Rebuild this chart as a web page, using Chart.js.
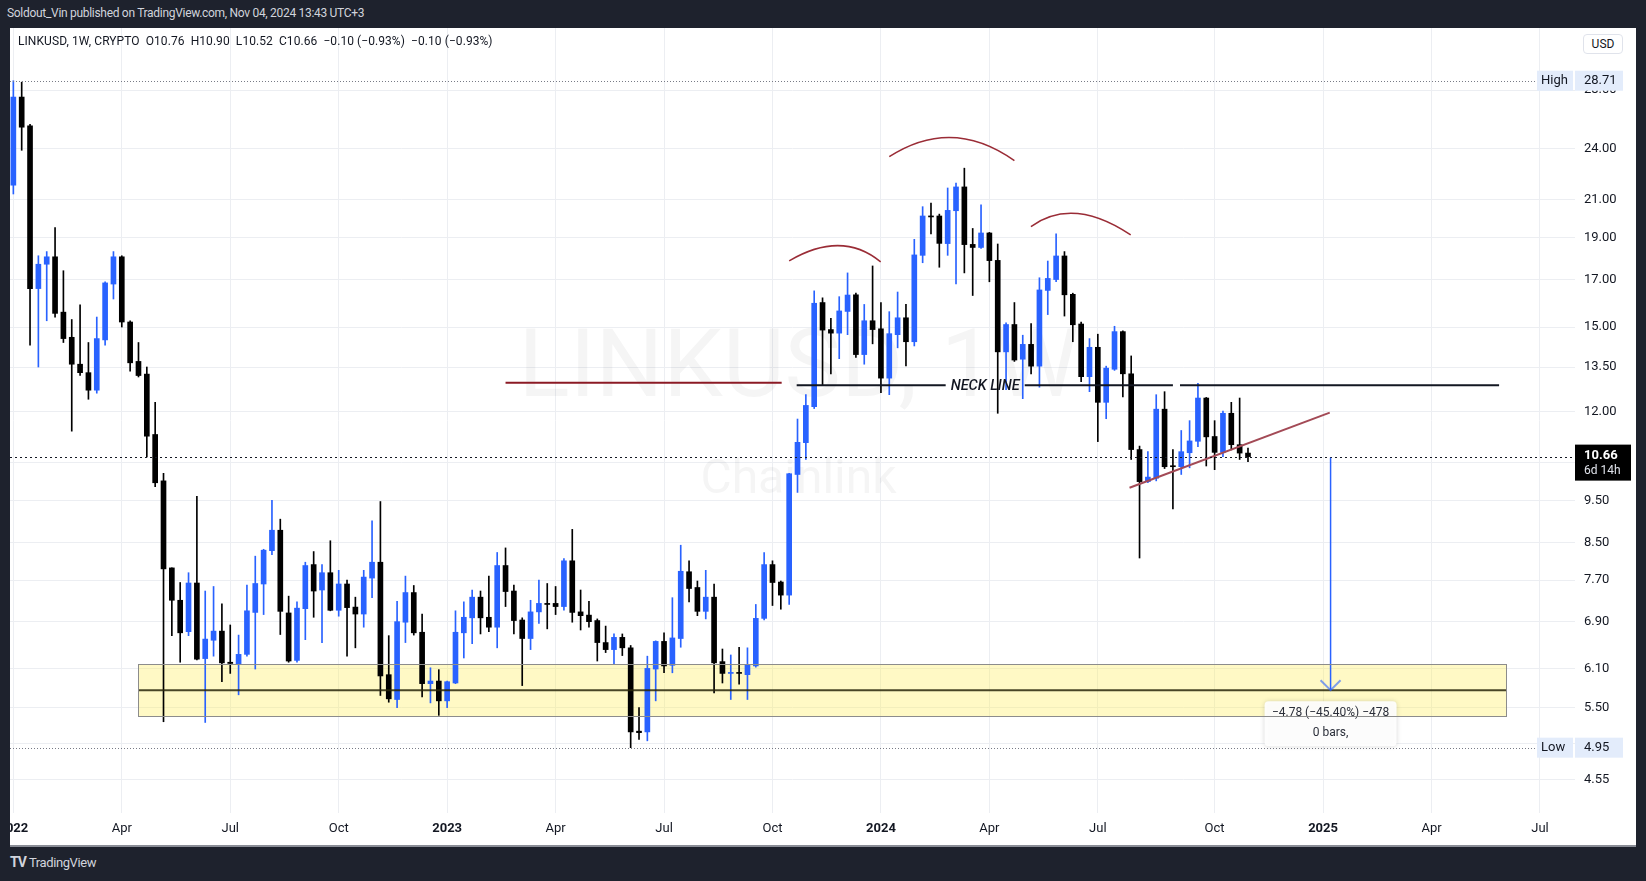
<!DOCTYPE html>
<html>
<head>
<meta charset="utf-8">
<script src="https://cdn.jsdelivr.net/npm/chart.js@4.4.0/dist/chart.umd.min.js"></script>
<style>
  html, body { margin: 0; padding: 0; width: 1646px; height: 881px; overflow: hidden; background: #1e222d; font-family: Roboto, "Liberation Sans", sans-serif; }
  #top { position: absolute; left: 7px; top: 6px; color: #d1d4dc; font-size: 12px; letter-spacing: -0.3px; white-space: pre; }
  #panel { position: absolute; left: 10px; top: 28px; width: 1626px; height: 817px; background: #fff; border-bottom: 2px solid #8a8d96; }
  #panel canvas { position: absolute; left: 0; top: 0; }
  #legend { position: absolute; left: 8px; top: 6px; font-size: 12px; color: #131722; white-space: pre; letter-spacing: 0.07px; z-index: 2; }
  #usd { position: absolute; left: 1573px; top: 6px; width: 38px; height: 18px; border: 1px solid #e0e3eb; border-radius: 4px; font-size: 12px; line-height: 18px; text-align: center; color: #131722; background: #fff; z-index: 2; }
  #footer { position: absolute; left: 10px; top: 854px; color: #d1d4dc; font-size: 13px; letter-spacing: -0.4px; }
  #footer b { font-size: 14px; margin-right: 3px; letter-spacing: -1px; }
</style>
</head>
<body>
<div id="top">Soldout_Vin published on TradingView.com, Nov 04, 2024 13:43 UTC+3</div>
<div id="panel">
  <div id="legend">LINKUSD, 1W, CRYPTO  O10.76  H10.90  L10.52  C10.66  −0.10 (−0.93%)  −0.10 (−0.93%)</div>
  <div id="usd">USD</div>
  <canvas id="chart" width="1626" height="817"></canvas>
</div>
<div id="footer"><b>TV</b>TradingView</div>
<script>
// weekly candles, LINKUSD, first bar = week of Jan 3 2022
const opens = [21.8, 27.5, 25.5, 16.6, 17.7, 18.05, 15.6, 14.6, 13.6, 13.3,
  12.7, 14.5, 16.8, 18.05, 15.2, 13.7, 13.25, 11.3, 10.0, 7.95,
  7.3, 6.72, 7.64, 6.26, 6.57, 6.73, 6.2, 6.17, 6.33, 7.07,
  7.62, 8.32, 8.78, 7.06, 6.23, 7.14, 8.02, 7.5, 7.85, 7.11,
  7.62, 7.17, 7.04, 7.74, 8.07, 6.0, 5.62, 6.89, 7.45, 6.71,
  5.86, 5.9, 5.6, 5.87, 6.7, 6.97, 7.36, 6.98, 6.8, 8.0,
  7.48, 6.93, 6.6, 7.08, 7.24, 7.24, 7.18, 8.1, 7.08, 7.02,
  6.92, 6.53, 6.41, 6.62, 6.44, 5.17, 5.16, 6.09, 6.55, 6.15,
  6.6, 7.87, 7.55, 7.09, 7.36, 6.21, 6.02, 6.03, 6.0, 6.14,
  6.96, 8.02, 7.66, 7.4, 10.17, 11.06, 12.16, 16.0, 14.9, 14.76,
  15.63, 16.33, 13.95, 15.25, 14.93, 13.11, 14.7, 15.37, 14.43, 18.12,
  20.1, 20.1, 18.69, 20.38, 21.7, 18.65, 18.5, 19.22, 17.88, 14.05,
  15.1, 13.78, 14.33, 13.53, 16.52, 17.0, 18.09, 16.35, 15.12, 13.16,
  14.22, 12.3, 13.42, 14.82, 13.26, 10.86, 9.98, 10.07, 12.08, 10.4,
  10.38, 10.77, 11.1, 12.44, 11.24, 10.78, 11.95, 11.0, 10.76];
const highs = [28.71, 28.6, 25.6, 18.1, 18.3, 19.5, 17.4, 15.3, 15.9, 14.4,
  15.4, 16.9, 18.3, 18.1, 15.25, 14.4, 13.5, 12.3, 10.2, 7.95,
  7.65, 7.85, 9.6, 7.48, 7.57, 7.23, 6.84, 6.66, 7.6, 8.2,
  8.35, 9.5, 9.04, 7.38, 7.27, 8.07, 8.3, 8.02, 8.54, 7.9,
  7.7, 7.36, 7.9, 9.0, 9.47, 6.65, 7.28, 7.78, 7.59, 7.04,
  6.11, 6.08, 5.9, 7.1, 7.27, 7.5, 7.48, 7.78, 8.28, 8.38,
  7.6, 6.97, 7.3, 7.7, 7.63, 7.57, 8.15, 8.8, 7.5, 7.28,
  6.95, 6.82, 6.68, 6.68, 6.48, 5.5, 6.3, 6.56, 6.7, 7.35,
  8.44, 8.1, 7.68, 7.9, 7.62, 6.42, 6.32, 6.45, 6.44, 7.22,
  8.28, 8.1, 7.68, 10.2, 11.77, 12.55, 16.5, 16.2, 15.35, 16.25,
  17.3, 16.4, 15.92, 17.62, 16.0, 15.62, 16.45, 15.92, 18.9, 20.6,
  20.8, 20.2, 21.64, 21.92, 22.8, 19.45, 20.7, 19.25, 18.67, 15.17,
  16.0, 14.68, 15.14, 17.08, 17.85, 19.18, 18.3, 16.4, 15.2, 14.55,
  14.72, 13.53, 15.03, 14.85, 13.9, 10.96, 10.8, 12.55, 12.65, 10.86,
  11.42, 11.72, 12.93, 12.46, 11.72, 12.02, 12.3, 12.44, 10.90];
const lows = [21.3, 23.9, 14.3, 13.5, 15.25, 15.4, 14.4, 11.4, 13.2, 12.4,
  12.6, 14.3, 16.15, 15.0, 13.35, 13.15, 10.65, 9.85, 5.3, 6.65,
  6.2, 6.65, 6.24, 5.29, 6.3, 5.89, 6.02, 5.69, 6.3, 6.09,
  7.03, 8.23, 6.67, 6.2, 6.2, 6.58, 6.98, 6.53, 7.1, 7.0,
  6.3, 6.44, 6.8, 7.35, 5.68, 5.58, 5.5, 6.53, 6.66, 5.66,
  5.57, 5.39, 5.5, 5.86, 6.27, 6.51, 6.68, 6.72, 6.44, 7.18,
  6.68, 5.83, 6.41, 6.87, 6.77, 7.03, 7.11, 6.89, 6.75, 6.8,
  6.22, 6.36, 6.16, 6.31, 4.95, 5.06, 5.04, 5.6, 6.03, 6.03,
  6.45, 7.27, 7.01, 6.95, 5.72, 5.87, 5.62, 5.85, 5.62, 6.12,
  6.93, 7.2, 7.13, 7.22, 9.7, 10.58, 12.1, 12.87, 13.26, 13.8,
  14.7, 13.85, 13.6, 14.35, 12.62, 12.55, 14.2, 13.54, 14.27, 17.77,
  19.17, 17.56, 18.12, 16.8, 17.3, 16.3, 18.45, 16.9, 11.95, 12.72,
  13.7, 12.42, 13.26, 12.8, 15.5, 16.9, 15.44, 14.43, 12.99, 12.65,
  11.09, 11.78, 13.38, 12.48, 10.58, 8.16, 9.95, 10.0, 10.33, 9.29,
  10.17, 10.35, 10.94, 10.4, 10.3, 10.66, 10.85, 10.58, 10.52];
const closes = [27.5, 25.4, 16.6, 17.7, 18.05, 15.55, 14.55, 13.6, 13.3, 12.7,
  14.55, 16.85, 18.05, 15.2, 13.65, 13.2, 11.25, 9.95, 7.93, 7.3,
  6.7, 7.64, 6.25, 6.59, 6.73, 6.19, 6.18, 6.33, 7.1, 7.63,
  8.33, 8.78, 7.09, 6.22, 7.15, 8.0, 7.48, 7.85, 7.11, 7.62,
  7.16, 7.04, 7.76, 8.07, 5.98, 5.63, 6.9, 7.45, 6.7, 5.86,
  5.9, 5.6, 5.89, 6.71, 6.98, 7.36, 6.97, 6.8, 8.0, 7.47,
  6.92, 6.6, 7.08, 7.24, 7.22, 7.18, 8.1, 7.07, 7.01, 6.9,
  6.53, 6.41, 6.62, 6.44, 5.16, 5.15, 6.1, 6.55, 6.14, 6.61,
  7.88, 7.53, 7.09, 7.36, 6.19, 6.02, 6.03, 6.02, 6.15, 6.96,
  8.02, 7.65, 7.4, 10.19, 11.07, 12.2, 15.97, 14.88, 14.76, 15.65,
  16.32, 13.95, 15.25, 14.9, 13.11, 14.74, 15.37, 14.43, 18.14, 20.1,
  20.05, 18.7, 20.4, 21.7, 18.64, 18.5, 19.22, 17.87, 14.05, 15.1,
  13.75, 14.33, 13.53, 16.54, 17.05, 18.09, 16.33, 15.09, 13.16, 14.22,
  12.3, 13.46, 14.82, 13.26, 10.86, 9.98, 10.1, 12.08, 10.38, 10.38,
  10.8, 11.11, 12.44, 11.23, 10.78, 11.95, 11.0, 10.76, 10.66];

// axis ticks (x in weeks from the first bar)
const tickWeeks = [0, 13, 26, 39, 52, 65, 78, 91, 104, 117, 130, 144, 157, 170, 183];
const tickLabels = ['2022', 'Apr', 'Jul', 'Oct', '2023', 'Apr', 'Jul', 'Oct', '2024', 'Apr', 'Jul', 'Oct', '2025', 'Apr', 'Jul'];
const priceTicks = [4.55, 5.00, 5.50, 6.10, 6.90, 7.70, 8.50, 9.50, 10.50, 12.00, 13.50, 15.00, 17.00, 19.00, 21.00, 24.00, 28.00];

// drawings, in (week, price)
const zone = { from: 15.0, to: 179.0, top: 6.17, bottom: 5.38, mid: 5.76 };
const neckPrice = 12.87;
const neckSegments = [[93.9, 139.0], [139.85, 178.1]];
const neckLabelAt = 116.5;
const redLine = { from: 59.0, to: 92.1, price: 12.95 };
const trendLine = [[133.8, 9.82], [157.8, 11.97]];
const targetArrow = { at: 157.9, from: 10.63, to: 5.76 };
const arcs = [
  [[93.0, 17.86], [98.9, 18.59], [103.97, 17.81]],
  [[105.0, 23.5], [112.5, 24.72], [120.0, 23.26]],
  [[121.98, 19.55], [127.5, 20.23], [133.94, 19.12]]
];

const UP = '#2962ff';
const DOWN = '#000000';
const colorOf = (i) => closes[i] >= opens[i] ? UP : DOWN;
const candleColors = opens.map((_, i) => colorOf(i));

const overlay = {
  id: 'overlay',
  beforeDatasetsDraw(chart) {
    const { ctx, chartArea: a, scales: { x, y } } = chart;
    ctx.save();
    // watermark
    const cx = (a.left + a.right) / 2 + 6;
    const cy = (a.top + a.bottom) / 2;
    ctx.fillStyle = 'rgba(19,23,34,0.045)';
    ctx.textAlign = 'center';
    ctx.textBaseline = 'middle';
    ctx.font = '95px Roboto';
    ctx.fillText('LINKUSD, 1W', cx, cy - 48);
    ctx.font = '48px Roboto';
    ctx.fillText('Chainlink', cx, cy + 60);

    // support zone
    const zx1 = x.getPixelForValue(zone.from), zx2 = x.getPixelForValue(zone.to);
    const zy1 = y.getPixelForValue(zone.top), zy2 = y.getPixelForValue(zone.bottom);
    ctx.fillStyle = 'rgba(255,238,88,0.35)';
    ctx.fillRect(zx1, zy1, zx2 - zx1, zy2 - zy1);
    ctx.restore();
  },
  afterDatasetsDraw(chart) {
    const { ctx, chartArea: a, scales: { x, y } } = chart;
    const px = (k) => x.getPixelForValue(k);
    const py = (p) => y.getPixelForValue(p);
    ctx.save();

    // zone middle line
    const zx1 = px(zone.from), zx2 = px(zone.to);
    const zy1 = py(zone.top), zy2 = py(zone.bottom), zm = py(zone.mid);
    ctx.strokeStyle = 'rgba(40,38,10,0.85)';
    ctx.lineWidth = 2;
    ctx.beginPath(); ctx.moveTo(zx1, zm); ctx.lineTo(zx2, zm); ctx.stroke();

    // red line (old neck)
    ctx.strokeStyle = '#8b1a24';
    ctx.lineWidth = 2;
    ctx.beginPath();
    ctx.moveTo(px(redLine.from), py(redLine.price));
    ctx.lineTo(px(redLine.to), py(redLine.price));
    ctx.stroke();

    // neck line
    ctx.font = 'italic 500 14.5px Roboto';
    ctx.textAlign = 'center';
    ctx.textBaseline = 'middle';
    const ny = py(neckPrice);
    const lx = px(neckLabelAt);
    const half = ctx.measureText('NECK LINE').width / 2 + 5;
    ctx.strokeStyle = '#131722';
    ctx.lineWidth = 2;
    ctx.beginPath();
    ctx.moveTo(px(neckSegments[0][0]), ny); ctx.lineTo(lx - half, ny);
    ctx.moveTo(lx + half, ny); ctx.lineTo(px(neckSegments[0][1]), ny);
    ctx.moveTo(px(neckSegments[1][0]), ny); ctx.lineTo(px(neckSegments[1][1]), ny);
    ctx.stroke();
    ctx.fillStyle = '#131722';
    ctx.fillText('NECK LINE', lx, ny + 1);

    // head & shoulders arcs
    ctx.strokeStyle = '#9a2c36';
    ctx.lineWidth = 1.5;
    arcs.forEach(([s, m, e]) => {
      const sx = px(s[0]), sy = py(s[1]);
      const mx = px(m[0]), my = py(m[1]);
      const ex = px(e[0]), ey = py(e[1]);
      const cxp = 2 * mx - (sx + ex) / 2, cyp = 2 * my - (sy + ey) / 2;
      ctx.beginPath();
      ctx.moveTo(sx, sy);
      ctx.quadraticCurveTo(cxp, cyp, ex, ey);
      ctx.stroke();
    });

    // rising trend line
    ctx.strokeStyle = '#a34a56';
    ctx.lineWidth = 2;
    ctx.beginPath();
    ctx.moveTo(px(trendLine[0][0]), py(trendLine[0][1]));
    ctx.lineTo(px(trendLine[1][0]), py(trendLine[1][1]));
    ctx.stroke();

    // last price dotted line
    const lastY = Math.round(py(closes[closes.length - 1])) + 0.5;
    ctx.strokeStyle = '#131722';
    ctx.lineWidth = 1;
    ctx.setLineDash([2, 3]);
    ctx.beginPath(); ctx.moveTo(a.left, lastY); ctx.lineTo(a.right, lastY); ctx.stroke();
    // high / low dotted lines
    ctx.strokeStyle = '#787b86';
    ctx.setLineDash([1, 2]);
    const hy = Math.round(py(Math.max(...highs))) + 0.5;
    const ly = Math.round(py(Math.min(...lows))) + 0.5;
    ctx.beginPath();
    ctx.moveTo(a.left, hy); ctx.lineTo(a.right - 38, hy);
    ctx.moveTo(a.left, ly); ctx.lineTo(a.right - 38, ly);
    ctx.stroke();
    ctx.setLineDash([]);

    // target arrow
    const ax = px(targetArrow.at);
    const ay1 = py(targetArrow.from), ay2 = py(targetArrow.to);
    ctx.strokeStyle = '#2962ff';
    ctx.lineWidth = 1.5;
    ctx.beginPath(); ctx.moveTo(ax, ay1); ctx.lineTo(ax, ay2); ctx.stroke();
    ctx.strokeStyle = 'rgba(41,98,255,0.6)';
    ctx.lineWidth = 2;
    ctx.beginPath();
    ctx.moveTo(ax - 10, ay2 - 10); ctx.lineTo(ax, ay2); ctx.lineTo(ax + 10, ay2 - 10);
    ctx.stroke();

    // measure box
    const bw = 132, bh = 45, bx = ax - bw / 2, by = ay2 + 11;
    ctx.save();
    ctx.shadowColor = 'rgba(0,0,0,0.18)';
    ctx.shadowBlur = 5;
    ctx.fillStyle = 'rgba(255,255,255,0.92)';
    ctx.beginPath();
    ctx.roundRect(bx, by, bw, bh, 4);
    ctx.fill();
    ctx.restore();
    ctx.font = '12px Roboto';
    ctx.fillStyle = '#2a2e39';
    ctx.textAlign = 'center';
    ctx.fillText('−4.78 (−45.40%) −478', ax, by + 12);
    ctx.fillText('0 bars,', ax, by + 32);

    // zone border drawn last
    ctx.strokeStyle = '#8c8c8c';
    ctx.lineWidth = 1;
    ctx.strokeRect(Math.round(zx1) + 0.5, Math.round(zy1) + 0.5, Math.round(zx2 - zx1), Math.round(zy2 - zy1));
    ctx.restore();
  },
  afterDraw(chart) {
    const { ctx, chartArea: a, scales: { y } } = chart;
    ctx.save();
    ctx.textBaseline = 'middle';
    ctx.textAlign = 'left';
    const tag = (price, name) => {
      const yy = y.getPixelForValue(price);
      ctx.fillStyle = '#e3ecfb';
      ctx.fillRect(a.right - 38, yy - 10, 36, 20);
      ctx.fillRect(a.right, yy - 10, 48, 20);
      ctx.fillStyle = '#131722';
      ctx.font = '13px Roboto';
      ctx.fillText(name, a.right - 34, yy);
      ctx.fillText(price.toFixed(2), a.right + 9, yy);
    };
    tag(Math.max(...highs), 'High');
    tag(Math.min(...lows), 'Low');

    const last = closes[closes.length - 1];
    const yy = y.getPixelForValue(last);
    ctx.fillStyle = '#000';
    ctx.fillRect(a.right, yy - 12, 56, 36);
    ctx.fillStyle = '#fff';
    ctx.font = 'bold 13px Roboto';
    ctx.fillText(last.toFixed(2), a.right + 9, yy - 1);
    ctx.font = '12px Roboto';
    ctx.fillStyle = '#e0e3eb';
    ctx.fillText('6d 14h', a.right + 9, yy + 14);
    ctx.restore();
  }
};

Chart.defaults.font.family = 'Roboto, "Liberation Sans", sans-serif';

new Chart(document.getElementById('chart'), {
  type: 'bar',
  data: {
    datasets: [
      {
        label: 'wick',
        data: lows.map((l, i) => ({ x: i, y: [l, highs[i]] })),
        backgroundColor: candleColors,
        barThickness: 1,
        grouped: false,
        borderWidth: 0,
        order: 2
      },
      {
        label: 'body',
        data: opens.map((o, i) => ({ x: i, y: [o, closes[i]] })),
        backgroundColor: candleColors,
        barThickness: 5,
        grouped: false,
        borderWidth: 0,
        minBarLength: 1,
        order: 1
      }
    ]
  },
  options: {
    responsive: false,
    animation: false,
    devicePixelRatio: 1,
    layout: { padding: 0, autoPadding: false },
    plugins: { legend: { display: false }, tooltip: { enabled: false } },
    scales: {
      x: {
        type: 'linear',
        position: 'bottom',
        min: -0.4016,
        max: 187.2,
        offset: false,
        afterFit: (s) => { s.height = 32; s.paddingLeft = 0; s.paddingRight = 0; s.paddingTop = 0; s.paddingBottom = 0; },
        afterBuildTicks: (s) => { s.ticks = tickWeeks.map(v => ({ value: v })); },
        grid: { color: '#eceef2', drawTicks: false, offset: false },
        border: { display: false },
        ticks: {
          autoSkip: false,
          maxRotation: 0,
          padding: 8,
          color: '#131722',
          font: (c) => ({ size: 13, weight: /^\d{4}$/.test(tickLabels[c.index] || '') ? 'bold' : 'normal' }),
          callback: (v, i) => tickLabels[i]
        }
      },
      y: {
        type: 'logarithmic',
        position: 'right',
        min: 4.167,
        max: 32.99,
        afterFit: (s) => { s.width = 61; s.paddingLeft = 0; s.paddingRight = 0; s.paddingTop = 0; s.paddingBottom = 0; },
        afterBuildTicks: (s) => { s.ticks = priceTicks.map(v => ({ value: v })); },
        grid: { color: '#eceef2', drawTicks: false, offset: false },
        border: { display: false },
        ticks: {
          autoSkip: false,
          padding: 9,
          color: '#131722',
          font: { size: 13 },
          callback: (v) => Number(v).toFixed(2)
        }
      }
    }
  },
  plugins: [overlay]
});
</script>
</body>
</html>
